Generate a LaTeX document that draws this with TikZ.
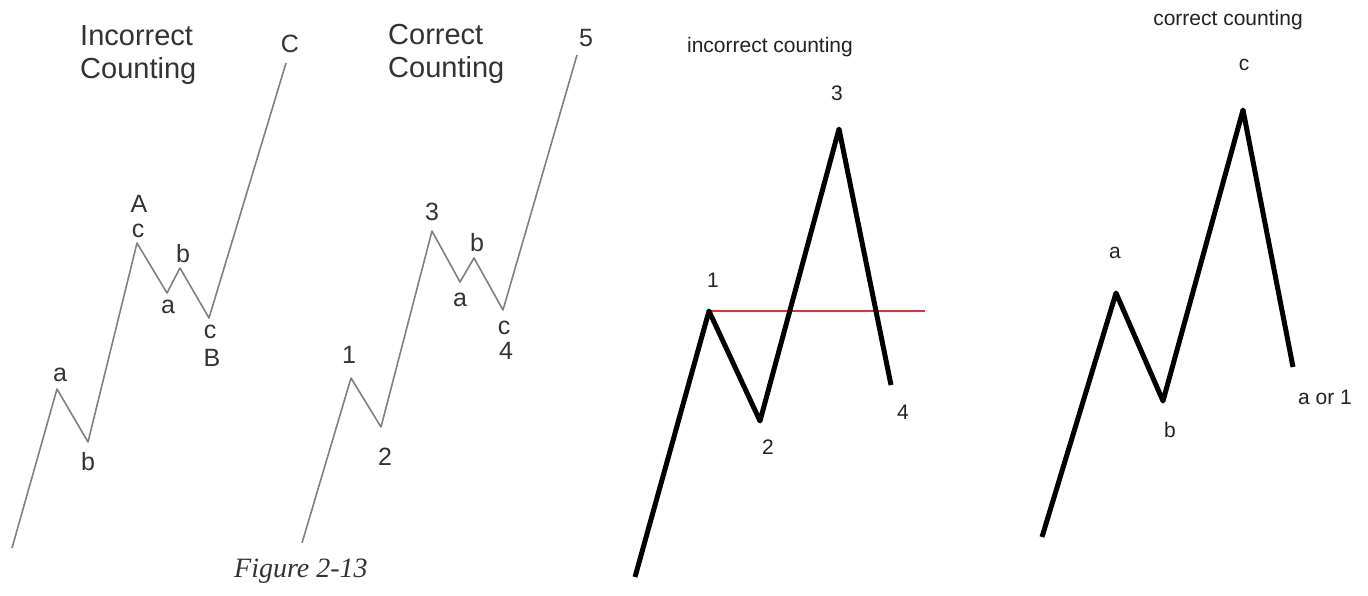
\documentclass[tikz,border=0pt]{standalone}
\usepackage{fontspec}
\setmainfont{Liberation Sans}
\newfontfamily\captionserif{Liberation Serif}
\usepackage{tikz}
\definecolor{WaveGray}{HTML}{808080}
\definecolor{LabelGray}{HTML}{333333}
\definecolor{LabelDark}{HTML}{222222}
\definecolor{LevelRed}{HTML}{E0303A}
\tikzset{
  thinwave/.style={draw=WaveGray,line width=1.6pt,line join=round},
  boldwave/.style={draw=black,line width=5pt,line join=round},
  levelline/.style={draw=LevelRed,line width=1.5pt},
  booklabel/.style={text=LabelGray,inner sep=0pt,font=\fontsize{25}{30}\selectfont},
  chartlabel/.style={text=LabelDark,inner sep=0pt,font=\fontsize{21}{25}\selectfont},
  booktitle/.style={text=LabelGray,inner sep=0pt,align=left,anchor=north west,font=\fontsize{29}{33}\selectfont},
  charttitle/.style={text=LabelDark,inner sep=0pt,font=\fontsize{21}{25}\selectfont},
  figcaption/.style={text=LabelGray,inner sep=0pt,anchor=base west,font=\captionserif\itshape\fontsize{28}{32}\selectfont}
}
\begin{document}
\begin{tikzpicture}[x=1pt,y=-1pt]
\path[use as bounding box,fill=white] (0,0) rectangle (1368,595);
% book figure, incorrect counting
\coordinate (i0) at (12,548);
\coordinate (ia) at (57,389);
\coordinate (ib) at (88,442);
\coordinate (iA) at (137,243);
\coordinate (ia2) at (167,293);
\coordinate (ib2) at (180,268);
\coordinate (iB) at (209,318);
\coordinate (iC) at (286,63);
\draw[thinwave] (i0) -- (ia) -- (ib) -- (iA) -- (ia2) -- (ib2) -- (iB) -- (iC);
\node[booktitle] (ititle) at (80,25) {Incorrect\\Counting};
\node[booklabel] (lia) at (60,375) {a};
\node[booklabel] (lib) at (88,462) {b};
\node[booklabel] (liA) at (139,204) {A};
\node[booklabel] (lic) at (138,231) {c};
\node[booklabel] (lia2) at (168,307) {a};
\node[booklabel] (lib2) at (183,254) {b};
\node[booklabel] (lic2) at (210,332) {c};
\node[booklabel] (liB) at (212,358) {B};
\node[booklabel] (liC) at (290,44) {C};
% book figure, correct counting
\coordinate (c0) at (302,543);
\coordinate (c1) at (351,378);
\coordinate (c2) at (381,427);
\coordinate (c3) at (432,231);
\coordinate (ca) at (460,282);
\coordinate (cb) at (474,258);
\coordinate (c4) at (503,310);
\coordinate (c5) at (577,55);
\draw[thinwave] (c0) -- (c1) -- (c2) -- (c3) -- (ca) -- (cb) -- (c4) -- (c5);
\node[booktitle] (ctitle) at (388,24) {Correct\\Counting};
\node[booklabel] (lc1) at (349,355) {1};
\node[booklabel] (lc2) at (385,457) {2};
\node[booklabel] (lc3) at (432,212) {3};
\node[booklabel] (lca) at (460,300) {a};
\node[booklabel] (lcb) at (477,243) {b};
\node[booklabel] (lcc) at (504,328) {c};
\node[booklabel] (lc4) at (506,351) {4};
\node[booklabel] (lc5) at (586,38) {5};
\node[figcaption] (figcap) at (234,577) {Figure 2-13};
% chart, incorrect counting
\coordinate (w0) at (635,577);
\coordinate (w1) at (709,311);
\coordinate (w2) at (760,421);
\coordinate (w3) at (839,129);
\coordinate (w4) at (891,385);
\coordinate (redend) at (925,311);
\draw[levelline] (w1) -- (redend);
\draw[boldwave] (w0) -- (w1) -- (w2) -- (w3) -- (w4);
\node[charttitle] (wtitle) at (770,47) {incorrect counting};
\node[chartlabel] (lw1) at (713,280) {1};
\node[chartlabel] (lw2) at (768,447) {2};
\node[chartlabel] (lw3) at (837,93) {3};
\node[chartlabel] (lw4) at (903,412) {4};
% chart, correct counting
\coordinate (r0) at (1042,537);
\coordinate (ra) at (1116,293);
\coordinate (rb) at (1163,401);
\coordinate (rc) at (1243,110);
\coordinate (rend) at (1293,367);
\draw[boldwave] (r0) -- (ra) -- (rb) -- (rc) -- (rend);
\node[charttitle] (rtitle) at (1228,20) {correct counting};
\node[chartlabel] (lra) at (1115,253) {a};
\node[chartlabel] (lrb) at (1170,430) {b};
\node[chartlabel] (lrc) at (1244,65) {c};
\node[chartlabel] (lrend) at (1325,397) {a or 1};
\end{tikzpicture}
\end{document}
